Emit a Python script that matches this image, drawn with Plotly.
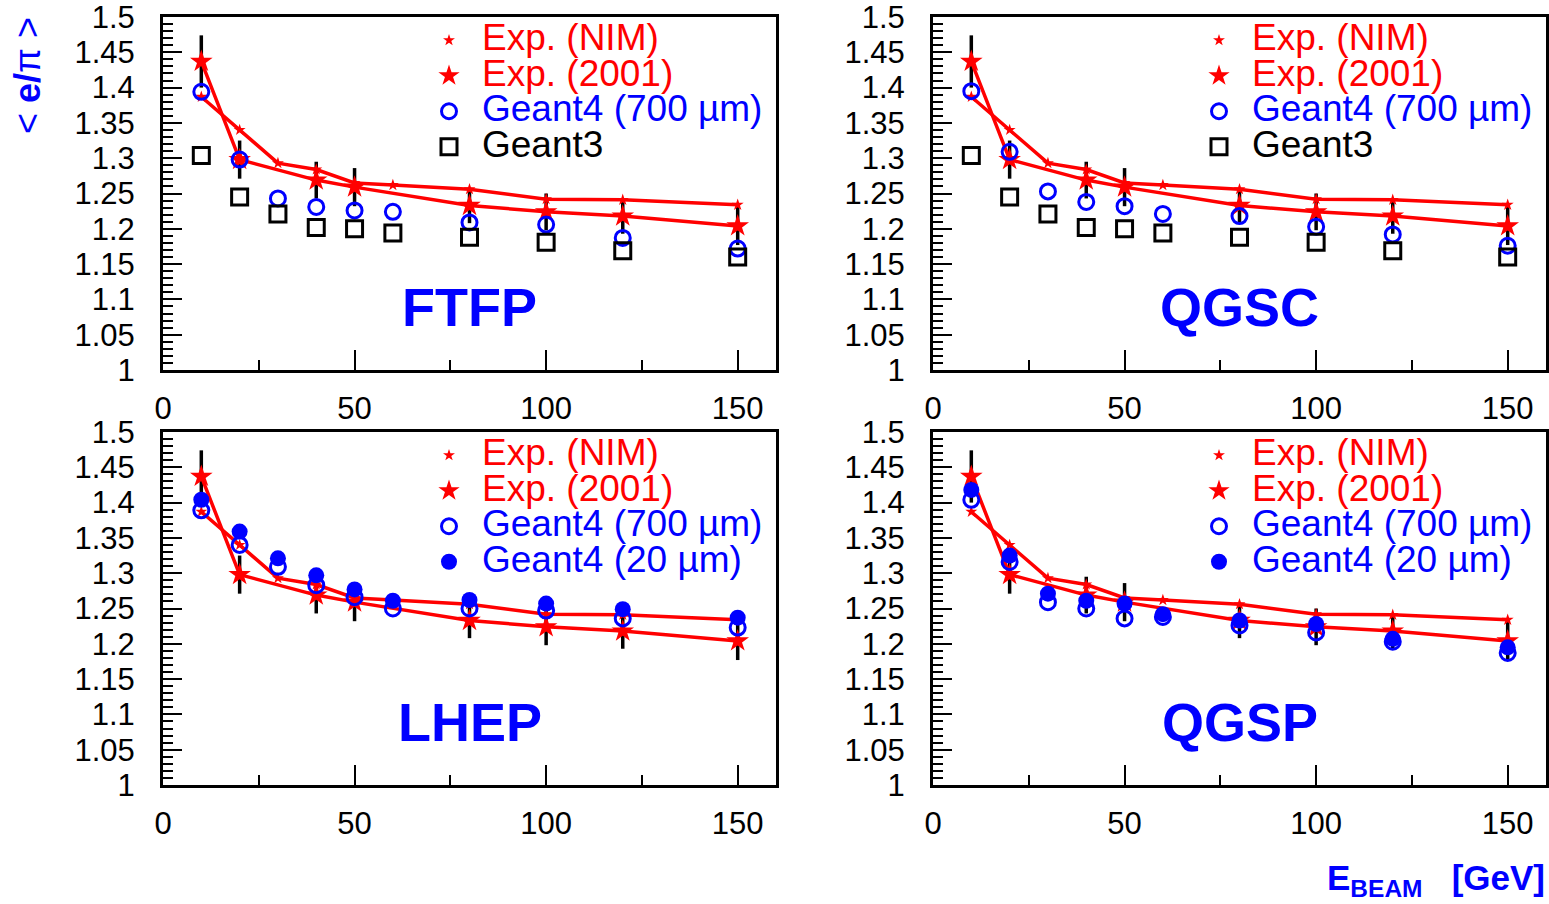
import plotly.graph_objects as go

FONT = "Liberation Sans, Arial, sans-serif"
RED = "#ff0000"
BLUE = "#0000ff"
BLACK = "#000000"

# ---------------- data ----------------
energies = [10, 20, 30, 40, 50, 60, 80, 100, 120, 150]
exp_nim = [1.387, 1.340, 1.293, 1.284, 1.265, 1.262, 1.256, 1.242, 1.241, 1.234]

energies_2001 = [10, 20, 40, 50, 80, 100, 120, 150]
exp_2001 = [1.437, 1.298, 1.269, 1.259, 1.233, 1.224, 1.218, 1.204]
exp_2001_err = [0.037, 0.027, 0.026, 0.027, 0.025, 0.026, 0.025, 0.027]

geant3 = [1.304, 1.245, 1.221, 1.202, 1.200, 1.194, 1.188, 1.181, 1.169, 1.160]

ftfp_g4_700 = [1.394, 1.298, 1.243, 1.231, 1.226, 1.224, 1.209, 1.206, 1.187, 1.172]
qgsc_g4_700 = [1.395, 1.309, 1.253, 1.238, 1.232, 1.221, 1.218, 1.203, 1.192, 1.176]

lhep_g4_700 = [1.389, 1.340, 1.309, 1.283, 1.266, 1.250, 1.250, 1.247, 1.236, 1.223]
lhep_g4_20 = [1.404, 1.359, 1.321, 1.297, 1.277, 1.261, 1.262, 1.257, 1.249, 1.237]

qgsp_g4_700 = [1.404, 1.316, 1.259, 1.250, 1.236, 1.238, 1.226, 1.216, 1.203, 1.187]
qgsp_g4_20 = [1.418, 1.325, 1.271, 1.261, 1.257, 1.242, 1.233, 1.228, 1.207, 1.195]

panel_names = ["FTFP", "QGSC", "LHEP", "QGSP"]
x_ticks = [0, 50, 100, 150]

names = {
    "nim": "Exp. (NIM)",
    "y2001": "Exp. (2001)",
    "g4_700": "Geant4 (700 µm)",
    "g4_20": "Geant4 (20 µm)",
    "g3": "Geant3",
}

# ---------------- layout geometry (pixels) ----------------
W, H = 1549, 904
panels = [
    # (x0, x1, ytop, ybottom) in pixels
    (163, 776, 17, 370),
    (933, 1546, 17, 370),
    (163, 776, 432, 785),
    (933, 1546, 432, 785),
]


def lname(text, color, size=37):
    return f"<span style='font-size:{size}px;color:{color}'>{text}</span>"


fig = go.Figure()

for i, pname in enumerate(panel_names):
    k = "" if i == 0 else str(i + 1)
    xa, ya = "x" + k, "y" + k
    leg = "legend" + k
    bottom = i >= 2

    # Experimental lines + error bars
    fig.add_trace(go.Scatter(x=energies, y=exp_nim, mode="lines",
                             line=dict(color=RED, width=3.5), xaxis=xa, yaxis=ya,
                             showlegend=False, hoverinfo="skip"))
    fig.add_trace(go.Scatter(x=energies_2001, y=exp_2001, mode="lines",
                             line=dict(color=RED, width=3.5), xaxis=xa, yaxis=ya,
                             error_y=dict(type="data", array=exp_2001_err, color=BLACK,
                                          thickness=3.5, width=0),
                             showlegend=False, hoverinfo="skip"))
    # Experimental markers
    fig.add_trace(go.Scatter(x=energies, y=exp_nim, mode="markers", name=lname(names["nim"], RED),
                             marker=dict(symbol="star", size=9, color=RED),
                             xaxis=xa, yaxis=ya, legend=leg, legendrank=1))
    fig.add_trace(go.Scatter(x=energies_2001, y=exp_2001, mode="markers",
                             name=lname(names["y2001"], RED),
                             marker=dict(symbol="star", size=17, color=RED),
                             xaxis=xa, yaxis=ya, legend=leg, legendrank=2))
    if not bottom:
        g4 = ftfp_g4_700 if i == 0 else qgsc_g4_700
        fig.add_trace(go.Scatter(x=energies, y=g4, mode="markers",
                                 name=lname(names["g4_700"], BLUE),
                                 marker=dict(symbol="circle-open", size=15, color=BLUE,
                                             line=dict(width=3, color=BLUE)),
                                 xaxis=xa, yaxis=ya, legend=leg, legendrank=3))
        fig.add_trace(go.Scatter(x=energies, y=geant3, mode="markers",
                                 name=lname(names["g3"], BLACK),
                                 marker=dict(symbol="square-open", size=16, color=BLACK,
                                             line=dict(width=3, color=BLACK)),
                                 xaxis=xa, yaxis=ya, legend=leg, legendrank=4))
    else:
        g4_700 = lhep_g4_700 if i == 2 else qgsp_g4_700
        g4_20 = lhep_g4_20 if i == 2 else qgsp_g4_20
        fig.add_trace(go.Scatter(x=energies, y=g4_20, mode="markers",
                                 name=lname(names["g4_20"], BLUE),
                                 marker=dict(symbol="circle", size=16, color=BLUE),
                                 xaxis=xa, yaxis=ya, legend=leg, legendrank=4))
        fig.add_trace(go.Scatter(x=energies, y=g4_700, mode="markers",
                                 name=lname(names["g4_700"], BLUE),
                                 marker=dict(symbol="circle-open", size=15, color=BLUE,
                                             line=dict(width=3, color=BLUE)),
                                 xaxis=xa, yaxis=ya, legend=leg, legendrank=3))

layout = dict(
    template="none",
    width=W, height=H,
    margin=dict(l=0, r=0, t=0, b=0, pad=0, autoexpand=False),
    paper_bgcolor="white", plot_bgcolor="white",
    font=dict(family=FONT, color=BLACK),
    annotations=[],
)

for i, (x0, x1, yt, yb) in enumerate(panels):
    k = "" if i == 0 else str(i + 1)
    xdom = [x0 / W, x1 / W]
    ydom = [1 - yb / H, 1 - yt / H]
    layout["xaxis" + k] = dict(
        domain=xdom, range=[0, 160], anchor="y" + k, automargin=False,
        showline=True, linewidth=3, linecolor=BLACK, mirror=True,
        showgrid=False, zeroline=False,
        ticks="inside", ticklen=20, tickwidth=2, tickcolor=BLACK,
        tickvals=x_ticks, ticktext=[str(v) for v in x_ticks],
        tickfont=dict(size=31, family=FONT, color=BLACK),
        ticklabelstandoff=9, ticklabeloverflow="allow",
        minor=dict(ticks="inside", ticklen=10, tickwidth=2, tickcolor=BLACK,
                   tickvals=[25, 75, 125], showgrid=False),
    )
    layout["yaxis" + k] = dict(
        domain=ydom, range=[1, 1.5], anchor="x" + k, automargin=False,
        showline=True, linewidth=3, linecolor=BLACK, mirror=True,
        showgrid=False, zeroline=False,
        ticks="inside", ticklen=19, tickwidth=2, tickcolor=BLACK,
        dtick=0.05, tick0=1,
        tickfont=dict(size=31, family=FONT, color=BLACK),
        ticklabelstandoff=19, ticklabeloverflow="allow",
        minor=dict(ticks="inside", ticklen=10, tickwidth=2, tickcolor=BLACK,
                   dtick=0.01, showgrid=False),
    )
    legx = (x0 + 253) / W
    legy = 1 - (yt + 0.5) / H
    layout["legend" + k] = dict(
        x=legx, y=legy, xanchor="left", yanchor="top",
        bgcolor="rgba(0,0,0,0)", borderwidth=0,
        font=dict(size=25, family=FONT),
        itemwidth=56, itemsizing="trace", tracegroupgap=0,
    )
    layout["annotations"].append(dict(
        text=f"<b>{panel_names[i]}</b>", xref=f"x{k} domain", yref=f"y{k} domain",
        x=0.5, y=0.178, xanchor="center", yanchor="middle", showarrow=False,
        font=dict(size=54, family=FONT, color=BLUE),
    ))

# axis titles
layout["annotations"].append(dict(
    text="&lt; <b>e/</b>π &gt;", xref="paper", yref="paper",
    x=27 / W, y=1 - 76 / H, xanchor="center", yanchor="middle",
    textangle=-90, showarrow=False,
    font=dict(size=36, family=FONT, color=BLUE),
))
layout["annotations"].append(dict(
    text="<b>E<sub>BEAM</sub>&nbsp;&nbsp;&nbsp;[GeV]</b>", xref="paper", yref="paper",
    x=1547 / W, y=1 - 880 / H, xanchor="right", yanchor="middle",
    showarrow=False,
    font=dict(size=35, family=FONT, color=BLUE),
))

fig.update_layout(**layout)
fig.write_html("out.html")
